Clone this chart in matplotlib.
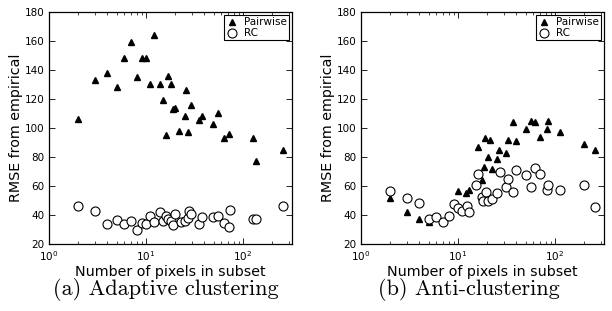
import numpy as np
import matplotlib.pyplot as plt

# (a) adaptive clustering
a_pw_x = [2, 3, 4, 5, 6, 7, 8, 9, 10, 11, 12, 14, 15, 16, 17, 18, 19, 20, 22, 25, 26, 27,
          29, 35, 38, 49, 55, 64, 72, 128, 135, 256]
a_pw_y = [106, 133, 138, 128, 148, 159, 135, 148, 148, 130.5, 164, 130, 119, 95, 136, 130.5,
          113, 114, 98, 108.5, 126, 97.5, 116, 105.5, 108, 102.5, 110, 93, 96, 93, 77, 85]
a_rc_x = [2, 3, 4, 5, 6, 7, 8, 9, 10, 11, 12, 14, 15, 16, 17, 18, 19, 20, 23, 25, 27, 28,
          29, 35, 38, 49, 55, 64, 72, 73, 128, 135, 256]
a_rc_y = [46, 43, 34, 36.5, 34, 36, 30, 34.5, 34, 39.5, 35.5, 42, 36, 39.5, 37, 36, 33,
          41, 35.5, 36, 38, 43, 40.5, 34, 38.5, 38.5, 39, 34.5, 32, 43.5, 37.5, 37, 46]

# (b) anti-clustering
b_pw_x = [2, 3, 4, 5, 10, 12, 13, 16, 17.5, 18.5, 19, 20.5, 21.5, 22.5, 25.5, 26.5, 31,
          32.5, 37, 40, 50, 56, 62, 70, 83, 85, 113, 197, 256]
b_pw_y = [51.5, 42, 37, 35, 56.5, 55, 57, 87, 64, 73, 93, 80, 91.5, 72, 78.5, 85, 82.5,
          91.5, 104, 91, 99, 105, 104, 93.5, 99.5, 105, 97.5, 89, 85]
b_rc_x = [2, 3, 4, 5, 6, 7, 8, 9, 10, 11, 12.5, 13, 15.3, 16.2, 17.5, 18.3, 19.4, 20.5,
          22.3, 25.5, 26.8, 31, 32.5, 37, 40, 50, 56.5, 62, 70, 83, 85, 113, 197, 256]
b_rc_y = [56.5, 52, 48, 37, 38.5, 35.5, 39.5, 47.5, 44.5, 43, 46.5, 42, 61, 68.5, 52.5,
          49.5, 56, 50, 51, 55, 70, 59.5, 65, 56, 71, 67.5, 59, 72.5, 68, 57.5, 60.5, 57.5,
          60.5, 45.5]

panels = [
    (a_pw_x, a_pw_y, a_rc_x, a_rc_y, '(a) Adaptive clustering'),
    (b_pw_x, b_pw_y, b_rc_x, b_rc_y, '(b) Anti-clustering'),
]

fig = plt.figure(figsize=(6.12, 3.11), dpi=100)
lefts = [49 / 612, 361 / 612]
cap_x = [166 / 612, 469 / 612]
for (px, py, rx, ry, cap), left, cx in zip(panels, lefts, cap_x):
    ax = fig.add_axes([left, 67 / 311, 243 / 612, 232 / 311])
    ax.plot(px, py, '^', color='k', markersize=5, label='Pairwise', zorder=2)
    ax.plot(rx, ry, 'o', mfc='white', mec='k', mew=0.8, markersize=6.5, label='RC', zorder=3)
    ax.set_xscale('log')
    ax.set_xlim(1, 320)
    ax.set_ylim(20, 180)
    ax.set_yticks(np.arange(20, 181, 20))
    ax.tick_params(which='both', direction='in', top=True, right=True, labelsize=7.5)
    ax.tick_params(which='major', length=4, width=0.6)
    ax.tick_params(which='minor', length=2, width=0.5)
    for s in ax.spines.values():
        s.set_linewidth(0.9)
    ax.set_xlabel('Number of pixels in subset', fontsize=10.3, labelpad=2)
    ax.set_ylabel('RMSE from empirical', fontsize=10.3, labelpad=1)
    leg = ax.legend(loc='upper right', numpoints=1, fontsize=7.5, fancybox=False,
                    edgecolor='k', framealpha=1, borderaxespad=0.3, borderpad=0.2,
                    labelspacing=0.1, handlelength=1.2, handletextpad=0.5)
    leg.get_frame().set_linewidth(0.8)
    fig.text(cx, 0.068, cap, ha='center', va='center', fontsize=16, family='cmr10')

fig.savefig('out.png', dpi=100)
